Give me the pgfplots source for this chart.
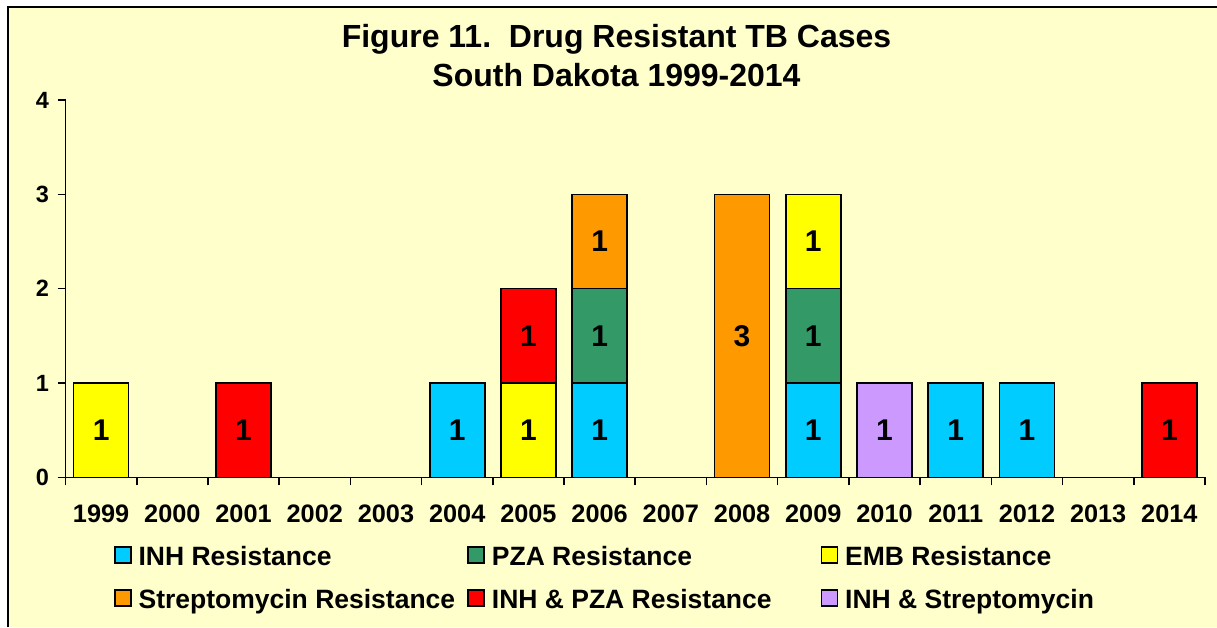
\documentclass[border=0pt]{standalone}
\usepackage{pgfplots}
\pgfplotsset{compat=1.18}
\usepackage{pgfplotstable}
\usepackage{fontspec}
\setmainfont{Liberation Sans}
\definecolor{bg}{HTML}{FFFFCC}
\definecolor{inh}{HTML}{00CCFF}
\definecolor{pza}{HTML}{339966}
\definecolor{emb}{HTML}{FFFF00}
\definecolor{str}{HTML}{FF9900}
\definecolor{ip}{HTML}{FF0000}
\definecolor{is}{HTML}{CC99FF}
\pgfplotstableread{
x  INH PZA EMB STR IP IS
0  0   0   1   0   0  0
1  0   0   0   0   0  0
2  0   0   0   0   1  0
3  0   0   0   0   0  0
4  0   0   0   0   0  0
5  1   0   0   0   0  0
6  0   0   1   0   1  0
7  1   1   0   1   0  0
8  0   0   0   0   0  0
9  0   0   0   3   0  0
10 1   1   1   0   0  0
11 0   0   0   0   0  1
12 1   0   0   0   0  0
13 1   0   0   0   0  0
14 0   0   0   0   0  0
15 0   0   0   0   1  0
}\datatable
\newcommand{\lstrut}{\rule[-12pt]{0pt}{40pt}}
\begin{document}
\begin{tikzpicture}
\useasboundingbox (0,0) rectangle (1217pt,627pt);
\fill[white] (0,0) rectangle (1217pt,627pt);
\fill[bg] (8pt,0) rectangle (1217pt,620pt);
\draw[line width=2pt] (8pt,0) -- (8pt,620pt) -- (1217pt,620pt);
\node[anchor=base, font=\fontsize{32}{38}\selectfont\bfseries, inner sep=0pt] at (616.5pt,579.7pt) {Figure 11.\ \ Drug Resistant TB Cases};
\node[anchor=base, font=\fontsize{32}{38}\selectfont\bfseries, inner sep=0pt] at (616.5pt,540.3pt) {South Dakota 1999-2014};
\begin{axis}[
  at={(65.5pt,149.7pt)}, anchor=south west,
  scale only axis, width=1139.5pt, height=377.3pt,
  ybar stacked, bar width=55pt,
  xmin=-0.5, xmax=15.5, ymin=0, ymax=4,
  axis x line*=bottom, axis y line*=left,
  axis line style={line width=1.6pt, black},
  xtick={0,...,15},
  xticklabels={1999,2000,2001,2002,2003,2004,2005,2006,2007,2008,2009,2010,2011,2012,2013,2014},
  minor xtick={-0.5,0.5,...,15.5},
  major x tick style={draw=none},
  minor x tick style={line width=1.6pt, black},
  ytick={0,1,2,3,4},
  y tick style={line width=1.6pt, black},
  tick align=outside,
  major tick length=8pt, minor tick length=8pt,
  xticklabel style={font=\fontsize{25.3}{30}\selectfont\bfseries, anchor=base, yshift=-37pt},
  yticklabel style={font=\fontsize{23.5}{28}\selectfont\bfseries, anchor=east, xshift=-5pt},
  /pgf/number format/assume math mode=true,
  visualization depends on={rawy \as \myrawy},
  nodes near coords={\ifdim\myrawy pt>0.5pt \pgfmathprintnumber{\myrawy}\fi},
  nodes near coords style={anchor=center, font=\fontsize{30}{36}\selectfont\bfseries, text=black},
  legend columns=3,
  legend style={draw=none, fill=none, inner sep=0pt, outer sep=0pt,
    at={(0.04256,-0.15823)}, anchor=north west,
    font=\fontsize{26.5}{32}\selectfont\bfseries,
    nodes={inner sep=0pt, outer sep=0pt},
    /tikz/every odd column/.style={column sep=7pt},
    /tikz/every even column/.style={column sep=0pt},
    row sep=14pt},
  legend cell align=left,
  legend image code/.code={\draw[#1, line width=1.6pt] (1pt,-11pt) rectangle (17pt,5pt);},
]
\addplot[fill=inh, draw=black, line width=1.6pt] table[x=x, y=INH]{\datatable};
\addlegendentry{\makebox[328.7pt][l]{\lstrut INH Resistance}}
\addplot[fill=pza, draw=black, line width=1.6pt] table[x=x, y=PZA]{\datatable};
\addlegendentry{\makebox[328.7pt][l]{\lstrut PZA Resistance}}
\addplot[fill=emb, draw=black, line width=1.6pt] table[x=x, y=EMB]{\datatable};
\addlegendentry{\makebox[328.7pt][l]{\lstrut EMB Resistance}}
\addplot[fill=str, draw=black, line width=1.6pt] table[x=x, y=STR]{\datatable};
\addlegendentry{\makebox[328.7pt][l]{\lstrut Streptomycin Resistance}}
\addplot[fill=ip, draw=black, line width=1.6pt] table[x=x, y=IP]{\datatable};
\addlegendentry{\makebox[328.7pt][l]{\lstrut INH \& PZA Resistance}}
\addplot[fill=is, draw=black, line width=1.6pt] table[x=x, y=IS]{\datatable};
\addlegendentry{\makebox[328.7pt][l]{\lstrut INH \& Streptomycin}}
\end{axis}
\end{tikzpicture}
\end{document}
